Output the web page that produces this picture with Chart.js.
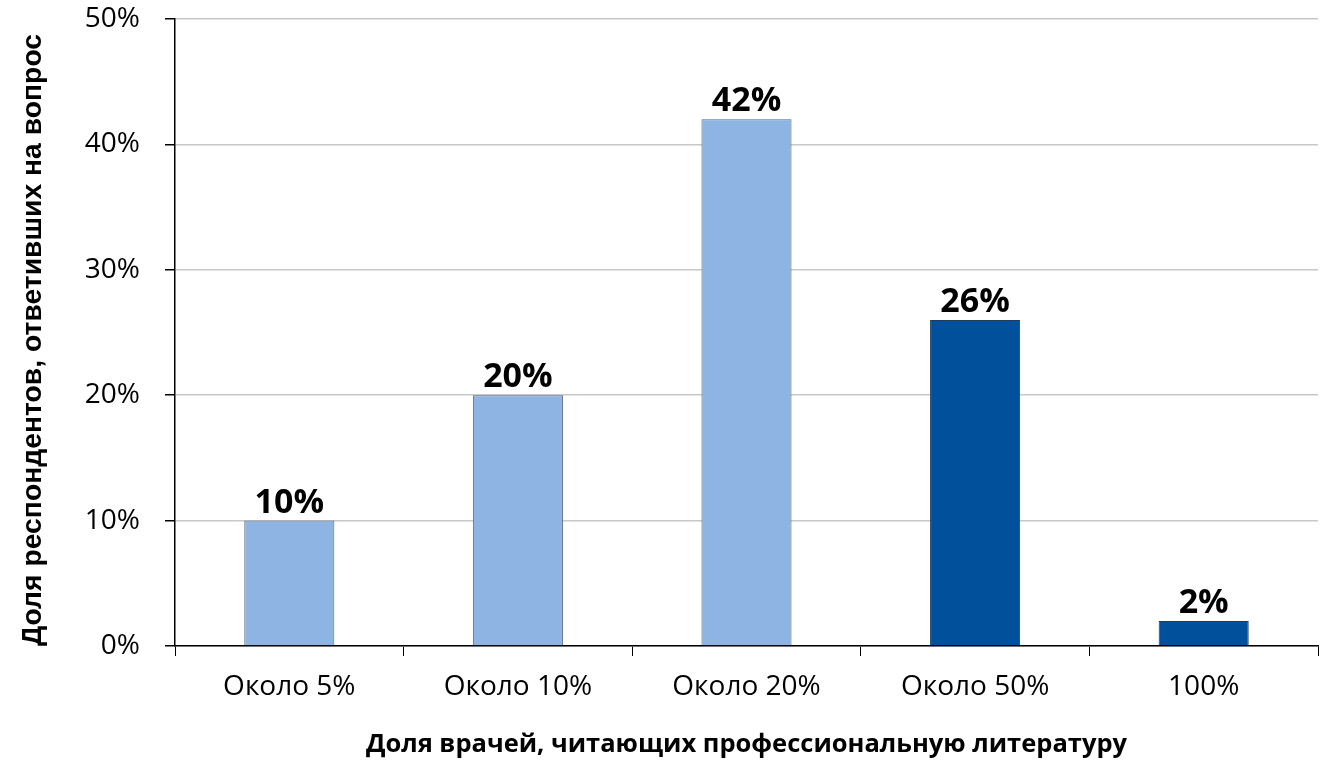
<!DOCTYPE html>
<html>
<head>
<meta charset="utf-8">
<script src="https://cdn.jsdelivr.net/npm/chart.js@4.4.1/dist/chart.umd.min.js"></script>
<style>
  html, body { margin: 0; padding: 0; background: #fff; }
  #wrap { width: 1332px; height: 763px; position: relative; }
</style>
</head>
<body>
<div id="wrap"><canvas id="chart"></canvas></div>
<script>
  // доля врачей, читающих литературу -> доля респондентов
  var categories = ['Около 5%', 'Около 10%', 'Около 20%', 'Около 50%', '100%'];
  var shares = [10, 20, 42, 26, 2];
  var yTicks = [0, 10, 20, 30, 40, 50];

  var lightBlue = '#8db4e2',
      darkBlue = '#00509b';
  var barColors = [lightBlue, lightBlue, lightBlue, darkBlue, darkBlue];
  var barBorders = ['#56687c', '#56687c', '#56687c', '#1d3c5e', '#1d3c5e'];

  var bodyFont = '"Open Sans", "Liberation Sans", sans-serif';

  // подписи значений над столбцами
  var valueLabels = {
    id: 'valueLabels',
    afterDatasetsDraw: function (chart) {
      var ctx = chart.ctx,
          meta = chart.getDatasetMeta(0);
      ctx.save();
      ctx.font = 'bold 34px ' + bodyFont;
      ctx.fillStyle = '#000';
      ctx.textAlign = 'center';
      ctx.textBaseline = 'alphabetic';
      meta.data.forEach(function (bar, i) {
        ctx.fillText(shares[i] + '%', bar.x, bar.y - 8);
      });
      ctx.restore();
    }
  };

  // фиксированные отступы области построения
  function noScalePadding(scale) {
    scale.paddingTop = 0;
    scale.paddingBottom = 0;
    scale.paddingLeft = 0;
    scale.paddingRight = 0;
  }

  new Chart(document.getElementById('chart'), {
    type: 'bar',
    data: {
      labels: categories,
      datasets: [{
        data: shares,
        backgroundColor: barColors,
        borderColor: barBorders,
        borderWidth: 1,
        barPercentage: 0.394,
        categoryPercentage: 1
      }]
    },
    options: {
      responsive: true,
      maintainAspectRatio: false,
      animation: false,
      layout: { padding: { top: 19, right: 14, left: 0, bottom: 0 } },
      plugins: {
        legend: { display: false },
        tooltip: { enabled: false }
      },
      scales: {
        x: {
          offset: true,
          grid: {
            offset: true,
            drawOnChartArea: false,
            drawTicks: true,
            tickLength: 10,
            tickColor: '#000'
          },
          border: { color: '#000', width: 1.5 },
          ticks: {
            color: '#000',
            padding: 14,
            maxRotation: 0,
            font: { family: bodyFont, size: 28 }
          },
          title: {
            display: true,
            text: 'Доля врачей, читающих профессиональную литературу',
            color: '#000',
            font: { family: bodyFont, size: 25.5, weight: 'bold' },
            padding: { top: 20, bottom: 3 }
          },
          afterFit: function (scale) {
            scale.height = 117;
            noScalePadding(scale);
          }
        },
        y: {
          min: 0,
          max: 50,
          afterBuildTicks: function (scale) {
            scale.ticks = yTicks.map(function (v) { return { value: v }; });
          },
          grid: {
            color: '#c8c8c8',
            lineWidth: 1.5,
            drawTicks: true,
            tickLength: 10,
            tickColor: '#000'
          },
          border: { color: '#000', width: 1.5 },
          ticks: {
            color: '#000',
            padding: 25,
            font: { family: bodyFont, size: 28 },
            callback: function (v) { return v + '%'; }
          },
          title: {
            display: true,
            align: 'start',
            text: 'Доля респондентов, ответивших на вопрос',
            color: '#000',
            font: { family: '"Liberation Sans", Arial, sans-serif', size: 28.3, weight: 'bold' },
            padding: { top: 16, bottom: 0 }
          },
          afterFit: function (scale) {
            scale.width = 175;
            noScalePadding(scale);
          }
        }
      }
    },
    plugins: [valueLabels]
  });
</script>
</body>
</html>
